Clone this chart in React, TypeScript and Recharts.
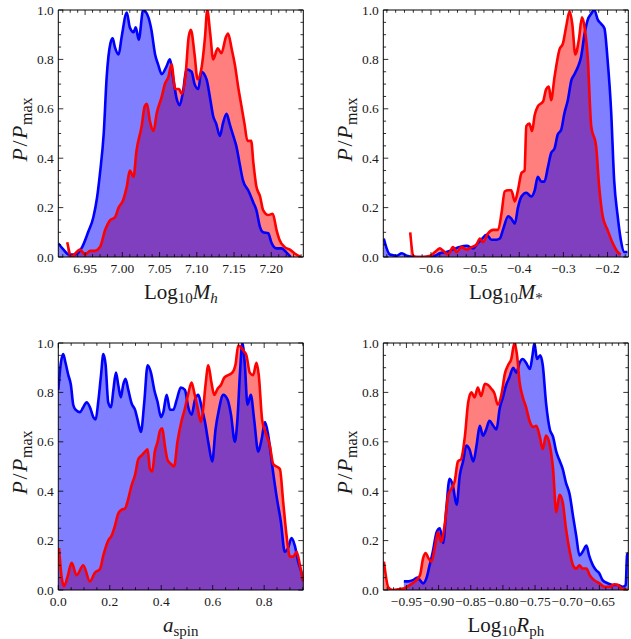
import React from 'react';
import { ComposedChart, Area, Line, XAxis, YAxis } from 'recharts';

// ---- Log10 M_h ----
const mhBlueX = [6.914, 6.921, 6.928, 6.937, 6.946, 6.954, 6.961, 6.966, 6.970, 6.975, 6.979, 6.984, 6.987, 6.990, 6.995, 6.999, 7.006, 7.010, 7.015, 7.018, 7.022, 7.028, 7.035, 7.039, 7.044, 7.048, 7.053, 7.059, 7.064, 7.068, 7.073, 7.077, 7.082, 7.086, 7.093, 7.097, 7.102, 7.106, 7.113, 7.118, 7.122, 7.126, 7.131, 7.135, 7.140, 7.144, 7.149, 7.153, 7.158, 7.162, 7.169, 7.176, 7.180, 7.185, 7.189, 7.196, 7.200, 7.207, 7.214, 7.220, 7.226];
const mhBlueP = [0.055, 0.03, 0.01, 0.01, 0.04, 0.10, 0.16, 0.24, 0.34, 0.50, 0.73, 0.865, 0.885, 0.85, 0.82, 0.89, 0.99, 0.93, 0.91, 0.93, 0.88, 1.0, 0.97, 0.92, 0.82, 0.78, 0.74, 0.77, 0.80, 0.73, 0.64, 0.615, 0.68, 0.76, 0.75, 0.70, 0.68, 0.75, 0.72, 0.64, 0.57, 0.54, 0.49, 0.54, 0.58, 0.54, 0.49, 0.45, 0.37, 0.31, 0.27, 0.22, 0.19, 0.12, 0.10, 0.096, 0.06, 0.035, 0.035, 0.02, 0.0];
const mhRedX = [6.926, 6.932, 6.937, 6.943, 6.950, 6.957, 6.963, 6.970, 6.977, 6.984, 6.990, 6.995, 7.001, 7.006, 7.010, 7.015, 7.019, 7.026, 7.030, 7.033, 7.037, 7.042, 7.046, 7.053, 7.057, 7.062, 7.066, 7.071, 7.076, 7.080, 7.085, 7.089, 7.092, 7.097, 7.101, 7.106, 7.111, 7.114, 7.118, 7.122, 7.128, 7.133, 7.139, 7.142, 7.147, 7.151, 7.156, 7.160, 7.164, 7.168, 7.173, 7.176, 7.180, 7.185, 7.189, 7.196, 7.202, 7.207, 7.211, 7.218, 7.225, 7.231, 7.240];
const mhRedP = [0.06, 0.0, 0.015, 0.03, 0.01, 0.025, 0.025, 0.04, 0.11, 0.15, 0.16, 0.20, 0.23, 0.285, 0.35, 0.325, 0.43, 0.53, 0.61, 0.62, 0.55, 0.51, 0.58, 0.65, 0.70, 0.73, 0.78, 0.68, 0.68, 0.66, 0.74, 0.89, 0.92, 0.82, 0.72, 0.76, 0.89, 1.0, 0.905, 0.80, 0.845, 0.825, 0.89, 0.905, 0.84, 0.78, 0.68, 0.61, 0.54, 0.47, 0.47, 0.38, 0.285, 0.245, 0.19, 0.17, 0.175, 0.11, 0.07, 0.04, 0.03, 0.015, 0.0];
const mhTicks = [6.95, 7.0, 7.05, 7.1, 7.15, 7.2];

// ---- Log10 M_* ----
const msBlueX = [-0.707, -0.693, -0.678, -0.666, -0.655, -0.640, -0.625, -0.602, -0.591, -0.580, -0.565, -0.550, -0.535, -0.519, -0.504, -0.497, -0.486, -0.474, -0.463, -0.452, -0.444, -0.437, -0.425, -0.418, -0.410, -0.403, -0.395, -0.384, -0.373, -0.365, -0.358, -0.350, -0.343, -0.335, -0.328, -0.320, -0.313, -0.305, -0.298, -0.290, -0.282, -0.275, -0.267, -0.260, -0.252, -0.245, -0.237, -0.230, -0.222, -0.215, -0.207, -0.200, -0.192, -0.185, -0.177, -0.170, -0.162, -0.155];
const msBlueP = [0.075, 0.01, 0.005, 0.015, 0.005, 0.0, 0.0, 0.0, 0.005, 0.015, 0.02, 0.03, 0.04, 0.045, 0.035, 0.05, 0.07, 0.09, 0.07, 0.07, 0.075, 0.11, 0.165, 0.155, 0.135, 0.20, 0.245, 0.26, 0.245, 0.27, 0.325, 0.305, 0.305, 0.365, 0.42, 0.44, 0.495, 0.515, 0.58, 0.635, 0.715, 0.74, 0.77, 0.81, 0.905, 0.96, 0.985, 1.0, 0.96, 0.945, 0.925, 0.80, 0.595, 0.31, 0.165, 0.07, 0.02, 0.02];
const msRedX = [-0.647, -0.640, -0.632, -0.617, -0.602, -0.591, -0.580, -0.572, -0.561, -0.550, -0.542, -0.531, -0.519, -0.508, -0.497, -0.489, -0.482, -0.471, -0.459, -0.448, -0.440, -0.433, -0.425, -0.418, -0.410, -0.403, -0.395, -0.388, -0.384, -0.377, -0.371, -0.365, -0.358, -0.346, -0.339, -0.333, -0.328, -0.320, -0.309, -0.301, -0.294, -0.286, -0.280, -0.273, -0.265, -0.258, -0.252, -0.245, -0.237, -0.226, -0.219, -0.211, -0.200, -0.188, -0.177, -0.170];
const msRedP = [0.10, 0.005, 0.0, 0.0, 0.005, 0.02, 0.035, 0.025, 0.01, 0.04, 0.02, 0.04, 0.03, 0.04, 0.05, 0.075, 0.06, 0.095, 0.11, 0.11, 0.18, 0.265, 0.27, 0.27, 0.225, 0.27, 0.34, 0.35, 0.53, 0.54, 0.51, 0.575, 0.61, 0.63, 0.68, 0.69, 0.635, 0.73, 0.84, 0.865, 0.93, 0.995, 0.945, 0.82, 0.88, 0.97, 0.93, 0.81, 0.53, 0.45, 0.285, 0.165, 0.11, 0.055, 0.02, 0.01];
const msTicks = [-0.6, -0.5, -0.4, -0.3, -0.2];

// ---- a_spin ----
const spBlueX = [0.000, 0.010, 0.019, 0.028, 0.039, 0.049, 0.058, 0.067, 0.084, 0.097, 0.110, 0.123, 0.136, 0.145, 0.155, 0.166, 0.175, 0.184, 0.194, 0.205, 0.214, 0.224, 0.233, 0.243, 0.252, 0.261, 0.272, 0.285, 0.298, 0.308, 0.321, 0.334, 0.347, 0.360, 0.373, 0.386, 0.399, 0.408, 0.421, 0.434, 0.447, 0.460, 0.476, 0.492, 0.505, 0.518, 0.531, 0.544, 0.557, 0.570, 0.585, 0.598, 0.611, 0.624, 0.641, 0.658, 0.671, 0.686, 0.696, 0.706, 0.715, 0.725, 0.735, 0.748, 0.761, 0.777, 0.790, 0.803, 0.816, 0.831, 0.848, 0.865, 0.880, 0.893, 0.906, 0.919, 0.932, 0.945, 0.952];
const spBlueP = [0.81, 0.92, 0.955, 0.92, 0.87, 0.83, 0.75, 0.73, 0.72, 0.74, 0.76, 0.74, 0.70, 0.69, 0.76, 0.87, 0.955, 0.91, 0.76, 0.74, 0.81, 0.88, 0.83, 0.78, 0.83, 0.855, 0.81, 0.755, 0.73, 0.69, 0.64, 0.76, 0.91, 0.88, 0.81, 0.76, 0.70, 0.72, 0.79, 0.73, 0.73, 0.77, 0.82, 0.81, 0.74, 0.71, 0.77, 0.79, 0.74, 0.68, 0.585, 0.52, 0.65, 0.73, 0.79, 0.77, 0.71, 0.60, 0.69, 0.88, 1.0, 0.91, 0.75, 0.79, 0.69, 0.56, 0.61, 0.68, 0.625, 0.505, 0.38, 0.275, 0.155, 0.17, 0.21, 0.18, 0.115, 0.07, 0.035];
const spRedX = [0.003, 0.012, 0.022, 0.035, 0.052, 0.071, 0.097, 0.123, 0.142, 0.162, 0.175, 0.194, 0.207, 0.220, 0.233, 0.246, 0.259, 0.272, 0.285, 0.298, 0.311, 0.324, 0.337, 0.347, 0.356, 0.365, 0.375, 0.386, 0.395, 0.404, 0.414, 0.425, 0.438, 0.450, 0.463, 0.479, 0.492, 0.505, 0.518, 0.528, 0.541, 0.554, 0.563, 0.572, 0.583, 0.595, 0.606, 0.619, 0.632, 0.645, 0.660, 0.676, 0.689, 0.699, 0.709, 0.718, 0.731, 0.744, 0.757, 0.770, 0.779, 0.792, 0.805, 0.822, 0.835, 0.848, 0.861, 0.874, 0.887, 0.900, 0.913, 0.926, 0.939, 0.951];
const spRedP = [0.17, 0.06, 0.015, 0.05, 0.11, 0.06, 0.10, 0.035, 0.07, 0.085, 0.14, 0.20, 0.22, 0.26, 0.31, 0.325, 0.33, 0.37, 0.425, 0.465, 0.53, 0.545, 0.56, 0.57, 0.49, 0.48, 0.56, 0.60, 0.645, 0.655, 0.585, 0.525, 0.51, 0.50, 0.60, 0.685, 0.735, 0.795, 0.84, 0.80, 0.74, 0.68, 0.735, 0.83, 0.91, 0.84, 0.79, 0.815, 0.83, 0.86, 0.87, 0.88, 0.915, 0.99, 0.985, 0.97, 0.95, 0.88, 0.87, 0.92, 0.87, 0.69, 0.64, 0.585, 0.51, 0.50, 0.49, 0.355, 0.22, 0.135, 0.135, 0.155, 0.10, 0.035];
const spTicks = [0, 0.2, 0.4, 0.6, 0.8];

// ---- Log10 R_ph ----
const rpBlueX = [-0.954, -0.947, -0.940, -0.933, -0.929, -0.924, -0.919, -0.914, -0.909, -0.903, -0.898, -0.893, -0.888, -0.883, -0.878, -0.872, -0.867, -0.862, -0.857, -0.852, -0.846, -0.841, -0.836, -0.831, -0.826, -0.821, -0.815, -0.810, -0.805, -0.800, -0.795, -0.790, -0.784, -0.779, -0.774, -0.769, -0.764, -0.758, -0.754, -0.751, -0.747, -0.742, -0.738, -0.733, -0.727, -0.722, -0.717, -0.712, -0.707, -0.702, -0.696, -0.691, -0.686, -0.681, -0.676, -0.670, -0.666, -0.660, -0.655, -0.650, -0.645, -0.637, -0.629, -0.621, -0.614, -0.609, -0.607, -0.605];
const rpBlueP = [0.035, 0.035, 0.04, 0.05, 0.04, 0.027, 0.047, 0.10, 0.155, 0.235, 0.25, 0.19, 0.33, 0.45, 0.425, 0.345, 0.465, 0.52, 0.585, 0.57, 0.52, 0.585, 0.665, 0.625, 0.65, 0.685, 0.665, 0.65, 0.735, 0.78, 0.83, 0.86, 0.90, 0.88, 0.92, 0.935, 0.92, 0.895, 0.95, 1.0, 0.935, 0.95, 0.91, 0.76, 0.65, 0.62, 0.56, 0.525, 0.49, 0.435, 0.385, 0.30, 0.22, 0.14, 0.155, 0.18, 0.14, 0.10, 0.08, 0.067, 0.04, 0.027, 0.02, 0.02, 0.013, 0.02, 0.14, 0.15];
const rpRedX = [-0.985, -0.978, -0.971, -0.960, -0.953, -0.945, -0.937, -0.929, -0.924, -0.920, -0.916, -0.911, -0.906, -0.901, -0.896, -0.890, -0.885, -0.880, -0.875, -0.870, -0.865, -0.859, -0.854, -0.849, -0.844, -0.839, -0.834, -0.828, -0.823, -0.818, -0.813, -0.808, -0.802, -0.797, -0.792, -0.787, -0.782, -0.778, -0.774, -0.769, -0.764, -0.758, -0.753, -0.748, -0.743, -0.738, -0.733, -0.727, -0.722, -0.717, -0.712, -0.707, -0.702, -0.696, -0.691, -0.686, -0.681, -0.676, -0.670, -0.665, -0.658, -0.650, -0.642, -0.634, -0.627, -0.621, -0.616, -0.611, -0.606];
const rpRedP = [0.115, 0.01, 0.0, 0.004, 0.007, 0.02, 0.034, 0.06, 0.13, 0.15, 0.13, 0.115, 0.17, 0.235, 0.195, 0.275, 0.385, 0.41, 0.44, 0.52, 0.53, 0.625, 0.76, 0.80, 0.78, 0.82, 0.785, 0.835, 0.83, 0.815, 0.795, 0.75, 0.795, 0.875, 0.91, 0.935, 1.0, 0.95, 0.84, 0.78, 0.74, 0.68, 0.66, 0.665, 0.625, 0.57, 0.625, 0.585, 0.49, 0.315, 0.385, 0.355, 0.25, 0.155, 0.10, 0.087, 0.10, 0.087, 0.087, 0.06, 0.04, 0.027, 0.013, 0.013, 0.023, 0.02, 0.007, 0.004, 0.0];
const rpTicks = [-0.95, -0.9, -0.85, -0.8, -0.75, -0.7, -0.65];

// shared vertical axis
const pTicks = [0, 0.2, 0.4, 0.6, 0.8, 1.0];

type Pt = { x: number; p: number };
const toPoints = (xs: number[], ps: number[]): Pt[] => xs.map((x, i) => ({ x, p: ps[i] }));

const SERIF = '"Liberation Serif", "Times New Roman", Times, serif';
const W = 318;
const AXIS = { stroke: '#000', strokeWidth: 1 };
const TEXT = '#1a1a1a';

function stepTicks(domain: [number, number], step: number): number[] {
  const out: number[] = [];
  const start = Math.ceil(domain[0] / step - 1e-9);
  for (let k = start; k * step <= domain[1] + 1e-9; k++) out.push(+(k * step).toFixed(6));
  return out;
}

const isMajor = (v: number, majors: number[]) => majors.some((m) => Math.abs(m - v) < 1e-6);

type Side = 'bottom' | 'top' | 'left' | 'right';

// inward-pointing frame ticks; majors are longer and (on bottom/left) labelled
function tickRenderer(side: Side, majors: number[], fmt?: (v: number) => string) {
  return (props: any) => {
    const { x, y, payload } = props;
    const v = payload.value as number;
    const major = isMajor(v, majors);
    const len = major ? 5 : 2.8;
    let x2 = x;
    let y2 = y;
    if (side === 'bottom') y2 = y - len;
    if (side === 'top') y2 = y + len;
    if (side === 'left') x2 = x + len;
    if (side === 'right') x2 = x - len;
    let label: React.ReactNode = null;
    if (fmt && major) {
      if (side === 'bottom') {
        label = (
          <text x={x} y={y + 16} textAnchor="middle" fontSize={13.5} fontFamily={SERIF} fill={TEXT}>
            {fmt(v)}
          </text>
        );
      } else if (side === 'left') {
        label = (
          <text x={x - 4.5} y={y + 4.5} textAnchor="end" fontSize={13.5} fontFamily={SERIF} fill={TEXT}>
            {fmt(v)}
          </text>
        );
      }
    }
    return (
      <g>
        <line x1={x} y1={y} x2={x2} y2={y2} stroke="#000" strokeWidth={0.8} />
        {label}
      </g>
    );
  };
}

const SUB = 15;
const subProps = { fontSize: SUB, dy: 4.5 };

function xTitle(parts: React.ReactNode) {
  return (props: any) => {
    const vb = props.viewBox || {};
    return (
      <text x={vb.x + vb.width / 2} y={vb.y + 41.5} textAnchor="middle" fontSize={21} fontFamily={SERIF} fill={TEXT}>
        {parts}
      </text>
    );
  };
}

const yTitle = (props: any) => {
  const vb = props.viewBox || {};
  const cx = vb.x + vb.width - 31;
  const cy = vb.y + vb.height / 2 - 4;
  return (
    <text x={cx} y={cy} transform={`rotate(-90 ${cx} ${cy})`} textAnchor="middle" fontSize={22} fontFamily={SERIF} fill={TEXT}>
      <tspan fontStyle="italic">P</tspan>
      <tspan dx={1.5}>/</tspan>
      <tspan fontStyle="italic" dx={1.5}>P</tspan>
      <tspan fontSize={16} dy={5} dx={0.5}>max</tspan>
    </text>
  );
};

const titleMh = xTitle(
  <>
    <tspan>Log</tspan>
    <tspan {...subProps}>10</tspan>
    <tspan fontStyle="italic" dy={-4.5}>M</tspan>
    <tspan fontStyle="italic" {...subProps}>h</tspan>
  </>
);
const titleMs = xTitle(
  <>
    <tspan>Log</tspan>
    <tspan {...subProps}>10</tspan>
    <tspan fontStyle="italic" dy={-4.5}>M</tspan>
    <tspan {...subProps}>*</tspan>
  </>
);
const titleSpin = xTitle(
  <>
    <tspan fontStyle="italic">a</tspan>
    <tspan {...subProps}>spin</tspan>
  </>
);
const titleRph = xTitle(
  <>
    <tspan>Log</tspan>
    <tspan {...subProps}>10</tspan>
    <tspan fontStyle="italic" dy={-4.5}>R</tspan>
    <tspan {...subProps}>ph</tspan>
  </>
);

interface PanelProps {
  left: number;
  top: number;
  height: number;
  blue: Pt[];
  red: Pt[];
  domain: [number, number];
  majors: number[];
  minorStep: number;
  digits: number;
  title: (props: any) => React.ReactNode;
}

function Panel({ left, top, height, blue, red, domain, majors, minorStep, digits, title }: PanelProps) {
  const xMinor = stepTicks(domain, minorStep);
  const yMinor = stepTicks([0, 1], 0.05);
  const fmtX = (v: number) => v.toFixed(digits).replace('-', '\u2212');
  const fmtY = (v: number) => v.toFixed(1);
  // plot box is always 247 px tall; the rest of the height is room for the x title
  const bottom = height - 10 - 247 - 30;
  return (
    <div style={{ position: 'absolute', left, top }}>
      <ComposedChart width={W} height={height} margin={{ top: 5, right: 9.7, bottom, left: 28.3 }}>
        <Area xAxisId="b" yAxisId="l" data={red} dataKey="p" type="monotoneX" stroke="none" fill="#ff0000" fillOpacity={0.5} isAnimationActive={false} />
        <Area xAxisId="b" yAxisId="l" data={blue} dataKey="p" type="monotoneX" stroke="none" fill="#0000ff" fillOpacity={0.5} isAnimationActive={false} />
        <Line xAxisId="b" yAxisId="l" data={blue} dataKey="p" type="monotoneX" stroke="#0000ff" strokeWidth={2.6} dot={false} activeDot={false} isAnimationActive={false} />
        <Line xAxisId="b" yAxisId="l" data={red} dataKey="p" type="monotoneX" stroke="#ff0000" strokeWidth={2.6} dot={false} activeDot={false} isAnimationActive={false} />
        <XAxis
          xAxisId="b"
          type="number"
          dataKey="x"
          domain={domain}
          allowDataOverflow
          ticks={xMinor}
          interval={0}
          height={30}
          tickSize={0}
          tickMargin={0}
          tickLine={false}
          axisLine={AXIS}
          tick={tickRenderer('bottom', majors, fmtX)}
          label={title}
        />
        <XAxis
          xAxisId="t"
          orientation="top"
          type="number"
          dataKey="x"
          domain={domain}
          allowDataOverflow
          ticks={xMinor}
          interval={0}
          height={5}
          tickSize={0}
          tickMargin={0}
          tickLine={false}
          axisLine={AXIS}
          tick={tickRenderer('top', majors)}
        />
        <YAxis
          yAxisId="l"
          type="number"
          domain={[0, 1]}
          allowDataOverflow
          ticks={yMinor}
          interval={0}
          width={30}
          tickSize={0}
          tickMargin={0}
          tickLine={false}
          axisLine={AXIS}
          tick={tickRenderer('left', pTicks, fmtY)}
          label={yTitle}
        />
        <YAxis
          yAxisId="r"
          orientation="right"
          type="number"
          domain={[0, 1]}
          allowDataOverflow
          ticks={yMinor}
          interval={0}
          width={5}
          tickSize={0}
          tickMargin={0}
          tickLine={false}
          axisLine={AXIS}
          tick={tickRenderer('right', pTicks)}
        />
      </ComposedChart>
    </div>
  );
}

export default function App() {
  return (
    <div style={{ position: 'absolute', left: 0, top: 0, width: 631, height: 639, overflow: 'hidden', background: '#fff' }}>
      <Panel left={0} top={0} height={320} blue={toPoints(mhBlueX, mhBlueP)} red={toPoints(mhRedX, mhRedP)} domain={[6.914, 7.243]} majors={mhTicks} minorStep={0.01} digits={2} title={titleMh} />
      <Panel left={325} top={0} height={320} blue={toPoints(msBlueX, msBlueP)} red={toPoints(msRedX, msRedP)} domain={[-0.708, -0.153]} majors={msTicks} minorStep={0.02} digits={1} title={titleMs} />
      <Panel left={0} top={332.5} height={306.5} blue={toPoints(spBlueX, spBlueP)} red={toPoints(spRedX, spRedP)} domain={[0, 0.952]} majors={spTicks} minorStep={0.05} digits={1} title={titleSpin} />
      <Panel left={325} top={332.5} height={306.5} blue={toPoints(rpBlueX, rpBlueP)} red={toPoints(rpRedX, rpRedP)} domain={[-0.986, -0.605]} majors={rpTicks} minorStep={0.01} digits={2} title={titleRph} />
    </div>
  );
}
